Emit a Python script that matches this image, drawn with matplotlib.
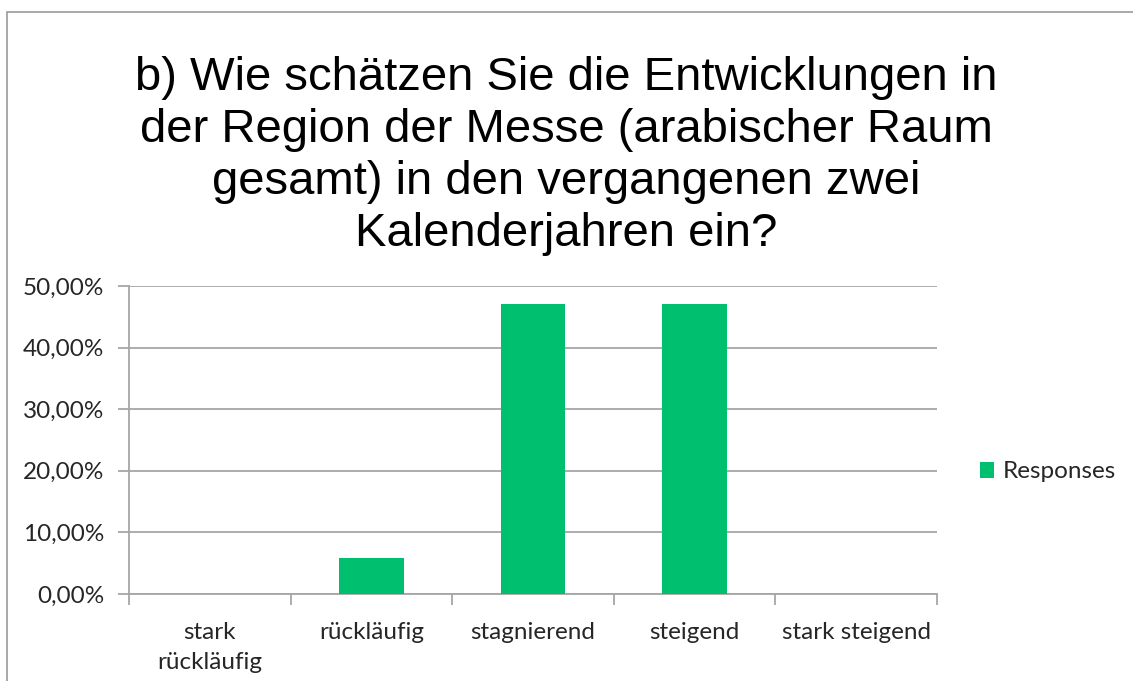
import matplotlib
matplotlib.use("Agg")
import matplotlib.pyplot as plt
from matplotlib.patches import Rectangle, Patch
from matplotlib.ticker import FuncFormatter, FixedLocator
import numpy as np

categories = ["stark\nrückläufig", "rückläufig", "stagnierend", "steigend", "stark steigend"]
values = [0.0, 5.88, 47.06, 47.06, 0.0]
yticks = [0, 10, 20, 30, 40, 50]
series_name = "Responses"
title = ("b) Wie schätzen Sie die Entwicklungen in\nder Region der Messe (arabischer Raum\n"
         "gesamt) in den vergangenen zwei\nKalenderjahren ein?")

W, H = 1133, 681
fig = plt.figure(figsize=(W / 100, H / 100), dpi=100)
fig.patch.set_facecolor("white")

# outer border
fig.add_artist(Rectangle((7 / W, -0.1), 1.2, 1 - 12 / H + 0.1, transform=fig.transFigure,
                         fill=False, edgecolor="#999999", linewidth=1.2))

ax = fig.add_axes([129 / W, 1 - 594 / H, (937 - 129) / W, (594 - 286) / H])
grid_c = "#a6a6a6"
green = "#00bf6f"
lab_font = "Lato"
lab_size = 17.5

x = np.arange(len(categories))
ax.bar(x, values, width=0.4, color=green, zorder=3, label=series_name)
ax.set_xlim(-0.5, len(categories) - 0.5)
ax.set_ylim(0, 50)
ax.set_yticks(yticks)
ax.yaxis.set_major_formatter(FuncFormatter(lambda v, p: f"{v:.2f}%".replace(".", ",")))
ax.grid(axis="y", color=grid_c, linewidth=1.3, zorder=0)
ax.set_axisbelow(True)

ax.set_xticks(x)
ax.set_xticklabels(categories, fontfamily=lab_font, fontsize=lab_size, color="#262626", linespacing=1.55)
ax.xaxis.set_minor_locator(FixedLocator(np.arange(-0.5, len(categories), 1.0)))
ax.tick_params(axis="x", which="major", length=0, pad=20)
ax.tick_params(axis="x", which="minor", length=8, color=grid_c, width=1.3)
ax.tick_params(axis="y", length=8, color=grid_c, width=1.3, pad=10)
for lbl in ax.get_yticklabels():
    lbl.set_fontfamily(lab_font)
    lbl.set_fontsize(lab_size)
    lbl.set_color("#262626")
for s in ["top", "right"]:
    ax.spines[s].set_visible(False)
for s in ["left", "bottom"]:
    ax.spines[s].set_color(grid_c)
    ax.spines[s].set_linewidth(1.3)

fig.text(0.5, 1 - 156 / H, title, ha="center", va="center", fontfamily="Liberation Sans",
         fontsize=34, linespacing=1.24, color="black")

leg = fig.legend(handles=[Patch(facecolor=green, label=series_name)], loc="center left",
                 bbox_to_anchor=(958 / W, 1 - 472 / H), frameon=False,
                 handlelength=0.6, handleheight=0.6, handletextpad=0.35,
                 prop={"family": lab_font, "size": lab_size})
for t in leg.get_texts():
    t.set_color("#262626")

fig.savefig("out.png", dpi=100, facecolor="white")
